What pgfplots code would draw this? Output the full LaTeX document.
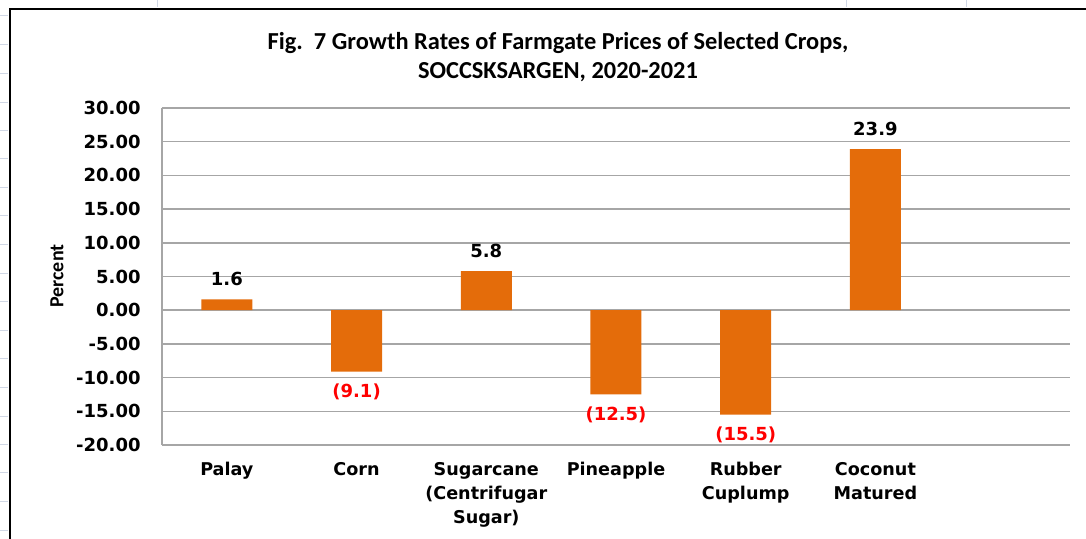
\documentclass[border=0pt]{standalone}
\usepackage{fontspec}
\setmainfont{DejaVu Sans}
\newfontfamily\calib{Carlito}
\usepackage{pgfplots}
\pgfplotsset{compat=1.18}

\definecolor{barorange}{RGB}{228,108,10}
\definecolor{gridgray}{RGB}{166,166,166}
\definecolor{cellgray}{RGB}{208,215,229}
\definecolor{labred}{RGB}{255,0,0}

\begin{document}
\begin{tikzpicture}
\begin{axis}[
  name=ax, at={(0pt,0pt)}, anchor=south west,
  scale only axis, width=454pt, height=168.5pt,
  xmin=-0.5, xmax=6.5, ymin=-20, ymax=30,
  ytick={-20,-15,...,30},
  xtick={0,1,2,3,4,5},
  xticklabels={Palay,Corn,Sugarcane\\(Centrifugar\\Sugar),Pineapple,Rubber\\Cuplump,Coconut\\Matured},
  separate axis lines,
  axis x line*=bottom, x axis line style={draw=none},
  axis y line*=left, y axis line style={draw=gridgray,line width=0.75pt,-},
  major tick length=0pt, tick style={draw=none},
  ymajorgrids, grid style={draw=gridgray,line width=0.75pt},
  yticklabel style={font=\bfseries\fontsize{9}{11}\selectfont,anchor=east,inner sep=0pt,xshift=-10.5pt},
  xticklabel style={font=\bfseries\fontsize{8.8}{12}\selectfont,align=center,anchor=north,inner sep=0pt,yshift=-8.5pt},
  /pgf/number format/.cd, fixed, fixed zerofill, precision=2, assume math mode=true,
  /pgfplots/.cd,
  ybar, bar width=25.5pt, bar shift=0pt,
]
\addplot[draw=none,fill=barorange,
  point meta=explicit symbolic,
  nodes near coords, every node near coord/.append style={font=\bfseries\fontsize{9}{11}\selectfont,black,anchor=south,inner sep=0pt,yshift=6.5pt}]
  coordinates {(0,1.6) [1.6] (2,5.8) [5.8] (5,23.9) [23.9]};
\addplot[draw=none,fill=barorange,
  point meta=explicit symbolic,
  nodes near coords, every node near coord/.append style={font=\bfseries\fontsize{9}{11}\selectfont,labred,anchor=north,inner sep=0pt,yshift=-6pt}]
  coordinates {(1,-9.1) [(9.1)] (3,-12.5) [(12.5)] (4,-15.5) [(15.5)]};
\end{axis}
% page frame and surrounding text, in page coordinates (1px = 0.5pt, origin bottom left)
\begin{scope}[shift={(-81pt,-47pt)},x=1pt,y=1pt]
\foreach \yy in {16,45,74,103,131,159,188,216,245,274,302,331,359,388,417,445,473,502,531}
  \draw[cellgray,line width=0.5pt] (0,269.5-\yy/2) -- (4,269.5-\yy/2);
\foreach \xx in {158,846,966}
  \draw[cellgray,line width=0.5pt] (\xx/2,269.5) -- (\xx/2,266);
\draw[black,line width=1.1pt] (5,-2) -- (5,265) -- (545,265);
\node[align=center,font=\calib\bfseries\fontsize{12.2}{14.5}\selectfont,anchor=center]
  at (279,241) {Fig.\ \ 7 Growth Rates of Farmgate Prices of Selected Crops,\\SOCCSKSARGEN, 2020-2021};
\node[rotate=90,font=\calib\bfseries\fontsize{10}{12}\selectfont] at (28.5,131.5) {Percent};
\pgfresetboundingbox
\useasboundingbox (0,0) rectangle (543,269.5);
\end{scope}
\end{tikzpicture}
\end{document}
